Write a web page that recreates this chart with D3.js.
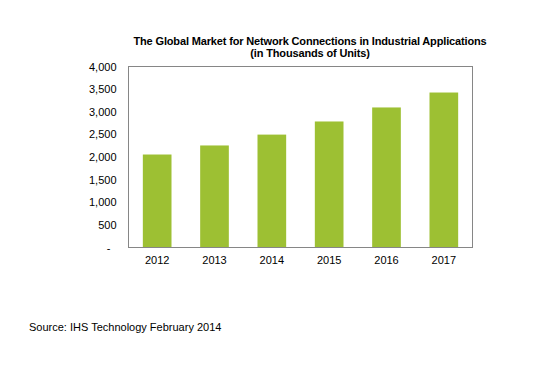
<!DOCTYPE html>
<html><head><meta charset="utf-8">
<script src="https://cdn.jsdelivr.net/npm/d3@7"></script>
<style>body{margin:0;background:#fff}svg{display:block}text{font-family:"Liberation Sans",Arial,sans-serif;fill:#000}</style>
</head><body>
<script>
const years = ["2012","2013","2014","2015","2016","2017"];
const values = [2055, 2255, 2495, 2785, 3095, 3425];
const yTicks = [0,500,1000,1500,2000,2500,3000,3500,4000];
const titleLines = ["The Global Market for Network Connections in Industrial Applications","(in Thousands of Units)"];
const sourceText = "Source: IHS Technology February 2014";

const W=538,H=365;
const svg=d3.select("body").append("svg").attr("width",W).attr("height",H);
const L=128.5,R=472.5,T=66.5,B=247.5;
const x=d3.scaleBand().domain(years).range([L,R]).paddingInner(0.5).paddingOuter(0.25);
const y=d3.scaleLinear().domain([0,4000]).range([B,T]);

svg.selectAll("rect.bar").data(values).enter().append("rect")
  .attr("x",(d,i)=>x(years[i])).attr("width",x.bandwidth())
  .attr("y",d=>y(d)).attr("height",d=>B-y(d)).attr("fill","#9DC033");

svg.append("rect").attr("x",L).attr("y",T).attr("width",R-L).attr("height",B-T)
  .attr("fill","none").attr("stroke","#868686").attr("stroke-width",1);

const fmt=d3.format(",");
const ya=svg.append("g").attr("transform",`translate(${L},0)`)
  .call(d3.axisLeft(y).tickValues(yTicks).tickSize(0).tickPadding(12).tickFormat(d=>d===0?"-":fmt(d)));
ya.select(".domain").remove();
ya.selectAll("text").style("font-size","11px").style("font-family","Liberation Sans, Arial, sans-serif").attr("fill","#000");
ya.selectAll(".tick").filter(d=>d===0).select("text").attr("dx","-6");

const xa=svg.append("g").attr("transform",`translate(0,${B})`)
  .call(d3.axisBottom(x).tickSize(0).tickPadding(9));
xa.select(".domain").remove();
xa.selectAll("text").style("font-size","11px").style("font-family","Liberation Sans, Arial, sans-serif").attr("fill","#000");

svg.selectAll("text.title").data(titleLines).enter().append("text")
  .attr("x",310).attr("y",(d,i)=>45+i*12).attr("text-anchor","middle")
  .style("font-size","11px").style("font-weight","bold").style("letter-spacing","-0.15px").text(d=>d);

svg.append("text").attr("x",29).attr("y",331).style("font-size","11px").text(sourceText);
</script>
</body></html>
